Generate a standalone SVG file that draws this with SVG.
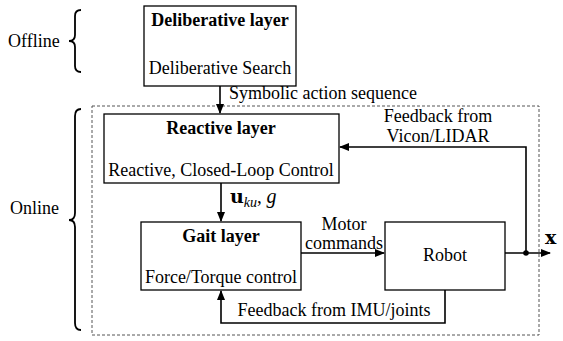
<svg xmlns="http://www.w3.org/2000/svg" width="563" height="341" viewBox="0 0 563 341">
<style>
text{font-family:'Liberation Serif',serif;font-size:18px;fill:#000}
.b{font-weight:bold}
.m{font-family:'DejaVu Serif',serif;font-weight:bold;font-size:19px}
.box{fill:#fff;stroke:#000;stroke-width:1.3}
.ln{fill:none;stroke:#000;stroke-width:1.6}
.br{fill:none;stroke:#000;stroke-width:1.8}
</style>
<defs>
<marker id="ah" markerWidth="10" markerHeight="8" refX="9" refY="4" orient="auto" markerUnits="userSpaceOnUse">
<path d="M0,0 L10,4 L0,8 Z" fill="#000"/>
</marker>
</defs>
<g id="offline">
<text x="8" y="47">Offline</text>
<path class="br" d="M81,10 Q75,10 75,16 L75,35 Q75,41 69,41 Q75,41 75,47 L75,66 Q75,72 81,72"/>
</g>
<g id="online">
<text x="10" y="214">Online</text>
<path class="br" d="M81,109 Q75,109 75,116 L75,213 Q75,220 69,220 Q75,220 75,227 L75,323 Q75,330 81,330"/>
</g>
<rect id="online-frame" x="92" y="106" width="447" height="229" fill="none" stroke="#555" stroke-width="1" stroke-dasharray="3,2"/>
<g id="deliberative">
<rect class="box" x="144" y="6" width="152" height="80"/>
<text class="b" x="220" y="26" text-anchor="middle">Deliberative layer</text>
<text x="220" y="74" text-anchor="middle">Deliberative Search</text>
</g>
<g id="reactive">
<rect class="box" x="104" y="114" width="235" height="69"/>
<text class="b" x="221" y="134" text-anchor="middle">Reactive layer</text>
<text x="221" y="176" text-anchor="middle">Reactive, Closed-Loop Control</text>
</g>
<g id="gait">
<rect class="box" x="141" y="222" width="160" height="68"/>
<text class="b" x="221" y="242" text-anchor="middle">Gait layer</text>
<text x="221" y="283" text-anchor="middle">Force/Torque control</text>
</g>
<g id="robot">
<rect class="box" x="385" y="222" width="120" height="68"/>
<text x="445" y="261" text-anchor="middle">Robot</text>
</g>
<g id="connectors">
<line class="ln" x1="220" y1="86" x2="220" y2="113" marker-end="url(#ah)"/>
<text x="229" y="99">Symbolic action sequence</text>
<line class="ln" x1="221" y1="183" x2="221" y2="221" marker-end="url(#ah)"/>
<text x="230" y="203"><tspan class="m">u</tspan><tspan font-style="italic" font-size="14" dy="4">ku</tspan><tspan dy="-4" font-size="19">, </tspan><tspan font-style="italic" font-size="20">g</tspan></text>
<line class="ln" x1="301" y1="253" x2="384" y2="253" marker-end="url(#ah)"/>
<text x="344" y="230" text-anchor="middle">Motor</text>
<text x="344" y="249" text-anchor="middle">commands</text>
<line class="ln" x1="505" y1="253" x2="550" y2="253" marker-end="url(#ah)"/>
<circle cx="526" cy="253" r="2.8" fill="#000"/>
<polyline class="ln" points="526,253 526,147 340,147" marker-end="url(#ah)"/>
<text x="438" y="122" text-anchor="middle">Feedback from</text>
<text x="438" y="142" text-anchor="middle">Vicon/LIDAR</text>
<text class="m" x="545" y="244">x</text>
<polyline class="ln" points="445,290 445,323 221,323 221,291" marker-end="url(#ah)"/>
<text x="334" y="316" text-anchor="middle">Feedback from IMU/joints</text>
</g>
</svg>
